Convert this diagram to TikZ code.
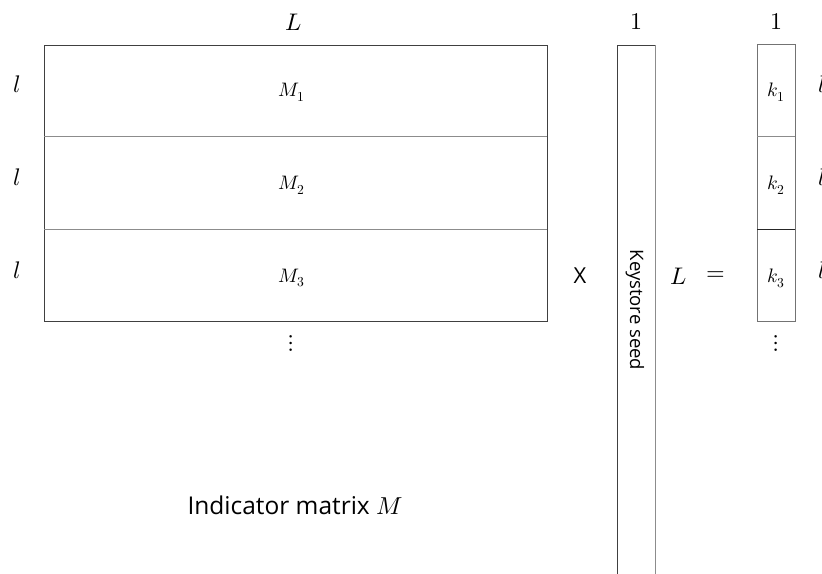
\documentclass[tikz,border=0pt]{standalone}
\usepackage{fontspec}
\setmainfont{Open Sans}
\usepackage{unicode-math}
\setmathfont{Latin Modern Math}
\tikzset{
  cell/.style={draw=black!75, line width=0.8pt, minimum width=#1, inner sep=0pt, anchor=north west},
  sep/.style={draw=black!45, line width=0.8pt},
  lab/.style={font=\fontsize{24}{24}\selectfont, inner sep=0pt},
  sub/.style={font=\fontsize{19.5}{19.5}\selectfont, inner sep=0pt}
}
\begin{document}
\begin{tikzpicture}[x=1pt,y=-1pt]
\useasboundingbox (0,0) rectangle (822,573);
\clip (0,0) rectangle (822,573);
% main matrix
\node[cell=503pt, minimum height=276pt] (M) at (44,45) {};
\draw[sep] (44,136) -- (547,136);
\draw[sep] (44,229) -- (547,229);
\node[sub] (m1) at (292,92) {$M_1$};
\node[sub] (m2) at (292,185) {$M_2$};
\node[sub] (m3) at (292,278) {$M_3$};
\node[lab] (Ltop) at (294,22) {$L$};
\node[lab] (l1) at (17,84) {$l$};
\node[lab] (l2) at (17,177) {$l$};
\node[lab] (l3) at (17,270) {$l$};
\node[lab] (dots1) at (291,343) {$\vdots$};
\node[font=\fontsize{24.5}{24.5}\selectfont, inner sep=0pt] (cap) at (295,505) {Indicator matrix $M$};
% times
\node[font=\fontsize{22}{22}\selectfont, inner sep=0pt] (x) at (580,276) {X};
% keystore seed
\draw[draw=black!75, line width=0.8pt] (617,580) -- (617,45) -- (655,45);
\draw[draw=black!45, line width=0.8pt] (655,45) -- (655,580);
\node[rotate=-90, font=\fontsize{18.5}{18.5}\selectfont, inner sep=0pt] (ks) at (635,310) {Keystore seed};
\node[lab] (one1) at (636,22) {$1$};
\node[lab] (Lmid) at (679,276) {$L$};
\node[lab] (eq) at (716,276) {$=$};
% k column
\node[cell=38pt, minimum height=277pt, draw=black!55] (K) at (757,44) {};
\draw[sep] (757,136) -- (795,136);
\draw[draw=black!85, line width=0.9pt] (757,229) -- (795,229);
\node[sub] (k1) at (776,92) {$k_1$};
\node[sub] (k2) at (776,185) {$k_2$};
\node[sub] (k3) at (776,278) {$k_3$};
\node[lab] (one2) at (776,22) {$1$};
\node[lab] (dots2) at (776,343) {$\vdots$};
\node[lab, anchor=west] (r1) at (818,84) {$l$};
\node[lab, anchor=west] (r2) at (818,177) {$l$};
\node[lab, anchor=west] (r3) at (818,270) {$l$};
\end{tikzpicture}
\end{document}
